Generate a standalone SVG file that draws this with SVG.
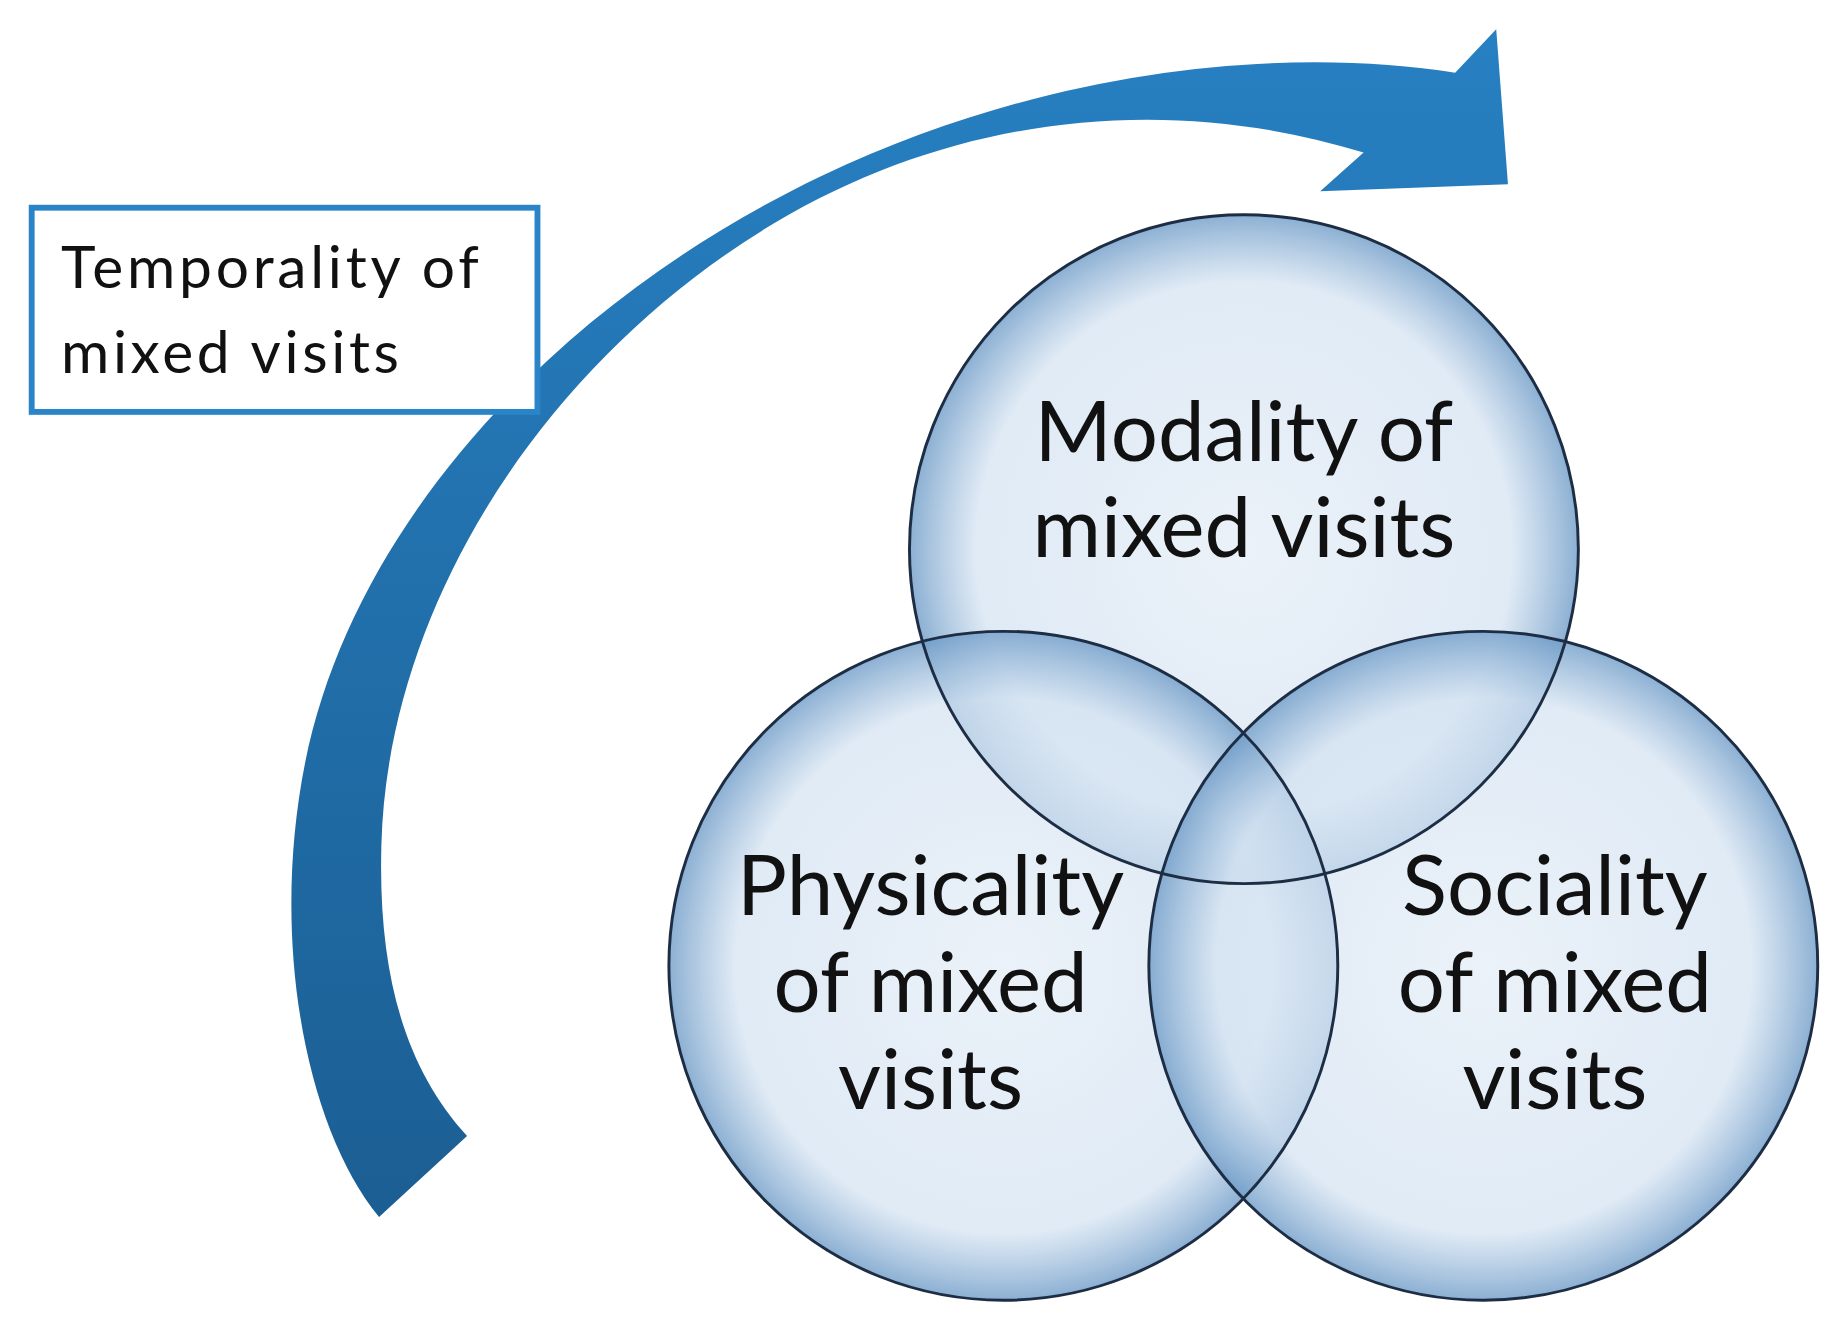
<svg xmlns="http://www.w3.org/2000/svg" width="1840" height="1337" viewBox="0 0 1840 1337">
<defs>
<linearGradient id="ag" x1="0" y1="0" x2="0" y2="1"><stop offset="0" stop-color="#2780c2"/><stop offset="1" stop-color="#1b5e93"/></linearGradient>
<radialGradient id="cg" cx="0.5" cy="0.5" r="0.5"><stop offset="0" stop-color="#e4edf7" stop-opacity="0.75"/><stop offset="0.8" stop-color="#d3e2f1" stop-opacity="0.7"/><stop offset="1" stop-color="#6f9cc8" stop-opacity="0.8"/></radialGradient>
<style>.c{fill:url(#cg)}.o{fill:none;stroke:#1d2d44;stroke-width:2.5}.t{font-family:Lato,"Open Sans",sans-serif;fill:#111;text-anchor:middle}</style>
</defs>
<rect width="1840" height="1337" fill="#fff"/>
<g transform="scale(1.1735)">
<g id="connectors">
<path d="M323 1037 C260 960 230 800 260 650 C300 450 470 260 700 150 C900 55 1100 40 1240 62 L1275 25 L1285 157 L1125 163 L1162 130 C1000 80 820 95 660 190 C460 310 330 520 325 720 C322 830 345 910 398 968 Z" fill="url(#ag)"/>
</g>
<g id="temporality">
<rect x="27" y="177" width="431" height="174" fill="#fff" stroke="#2a85c8" stroke-width="5"/>
<text x="52" y="245" font-family="Lato,'Open Sans',sans-serif" font-size="50" fill="#111" textLength="356">Temporality of</text>
<text x="52" y="318" font-family="Lato,'Open Sans',sans-serif" font-size="50" fill="#111" textLength="288">mixed visits</text>
</g>
<g id="modality"><circle class="c" cx="1060" cy="468" r="285"/></g>
<g id="physicality"><circle class="c" cx="855" cy="823" r="285"/></g>
<g id="sociality"><circle class="c" cx="1264" cy="823" r="285"/></g>
<g id="outlines">
<circle class="o" cx="1060" cy="468" r="285"/>
<circle class="o" cx="855" cy="823" r="285"/>
<circle class="o" cx="1264" cy="823" r="285"/>
</g>
<g id="labels" font-size="71">
<text class="t" x="1060" y="393">Modality of</text>
<text class="t" x="1060" y="475">mixed visits</text>
<text class="t" x="793" y="780">Physicality</text>
<text class="t" x="793" y="862">of mixed</text>
<text class="t" x="793" y="945">visits</text>
<text class="t" x="1325" y="780">Sociality</text>
<text class="t" x="1325" y="862">of mixed</text>
<text class="t" x="1325" y="945">visits</text>
</g>
</g>
</svg>
